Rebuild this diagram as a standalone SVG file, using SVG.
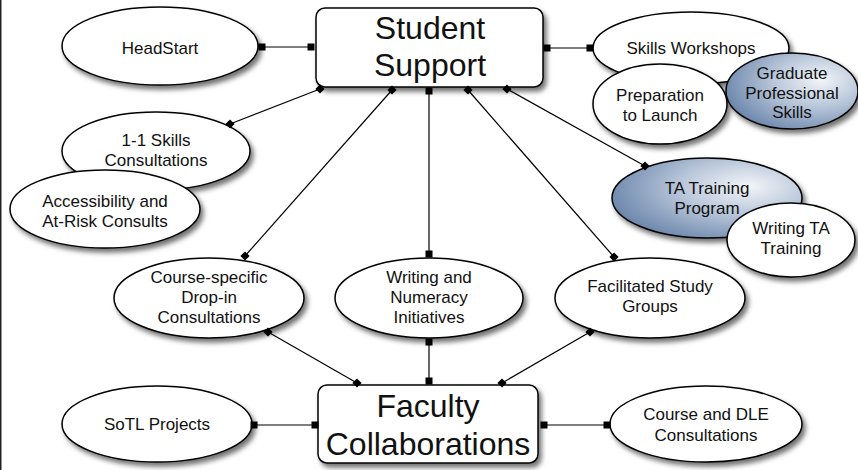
<svg xmlns="http://www.w3.org/2000/svg" width="858" height="470" viewBox="0 0 858 470">
<defs>
<filter id="sh" x="-20%" y="-20%" width="145%" height="155%">
<feDropShadow dx="3" dy="4" stdDeviation="2.5" flood-color="#000" flood-opacity="0.55"/>
</filter>
<radialGradient id="blue" cx="0.68" cy="0.38" r="0.75" fx="0.72" fy="0.35">
<stop offset="0" stop-color="#f3f5f9"/>
<stop offset="0.45" stop-color="#b9c7da"/>
<stop offset="1" stop-color="#6581a8"/>
</radialGradient>
<marker id="sq" viewBox="-4 -4 8 8" markerWidth="8" markerHeight="8" markerUnits="userSpaceOnUse" orient="0" refX="0" refY="0">
<rect x="-3.5" y="-3.5" width="7" height="7" fill="#000"/>
</marker>
<marker id="dm" viewBox="-5 -5 10 10" markerWidth="10" markerHeight="10" markerUnits="userSpaceOnUse" orient="0" refX="0" refY="0">
<path d="M0,-4.6 L4.6,0 L0,4.6 L-4.6,0Z" fill="#000"/>
</marker>
</defs>
<style>
.n{fill:#fff;stroke:#000;stroke-width:1.5;filter:url(#sh)}
.b{fill:url(#blue);stroke:#000;stroke-width:1.5;filter:url(#sh)}
.t{font-family:"Liberation Sans",Arial,Helvetica,sans-serif;font-size:17px;fill:#111;text-anchor:middle}
.big{font-family:"Liberation Sans",Arial,Helvetica,sans-serif;font-size:32px;fill:#111;text-anchor:middle}
.c line{stroke:#000;stroke-width:1.2}
.s{marker-start:url(#sq);marker-end:url(#sq)}
.d{marker-start:url(#dm);marker-end:url(#dm)}
</style>
<rect width="858" height="470" fill="#fff"/>
<rect x="0" y="0" width="1.5" height="470" fill="#222"/>

<g id="student-support">
<rect class="n" x="316" y="8" width="227" height="79" rx="9"/>
<text class="big" x="430" y="39">Student</text>
<text class="big" x="430" y="76">Support</text>
</g>
<g id="faculty-collaborations">
<rect class="n" x="318" y="385" width="220" height="78" rx="9"/>
<text class="big" x="428" y="417">Faculty</text>
<text class="big" x="428" y="455">Collaborations</text>
</g>
<g id="headstart">
<ellipse class="n" cx="160" cy="46" rx="98" ry="39"/>
<text class="t" x="160" y="54">HeadStart</text>
</g>
<g id="skills-workshops">
<ellipse class="n" cx="691" cy="48" rx="98" ry="36"/>
<text class="t" x="691" y="54">Skills Workshops</text>
</g>
<g id="preparation-to-launch">
<ellipse class="n" cx="660" cy="104" rx="67" ry="40"/>
<text class="t" x="660" y="101">Preparation</text>
<text class="t" x="660" y="121">to Launch</text>
</g>
<g id="graduate-professional-skills">
<ellipse class="b" cx="792" cy="91" rx="66" ry="38"/>
<text class="t" x="792" y="79">Graduate</text>
<text class="t" x="792" y="99">Professional</text>
<text class="t" x="792" y="118">Skills</text>
</g>
<g id="one-one-skills">
<ellipse class="n" cx="156" cy="151" rx="94" ry="39"/>
<text class="t" x="156" y="146">1-1 Skills</text>
<text class="t" x="156" y="166">Consultations</text>
</g>
<g id="accessibility">
<ellipse class="n" cx="105" cy="209" rx="95" ry="39"/>
<text class="t" x="105" y="207">Accessibility and</text>
<text class="t" x="105" y="227">At-Risk Consults</text>
</g>
<g id="ta-training">
<ellipse class="b" cx="707" cy="198" rx="95" ry="40"/>
<text class="t" x="707" y="194">TA Training</text>
<text class="t" x="707" y="214">Program</text>
</g>
<g id="writing-ta-training">
<ellipse class="n" cx="791" cy="240" rx="64" ry="37"/>
<text class="t" x="791" y="234">Writing TA</text>
<text class="t" x="791" y="254">Training</text>
</g>
<g id="course-specific">
<ellipse class="n" cx="209" cy="298" rx="95" ry="40"/>
<text class="t" x="209" y="283">Course-specific</text>
<text class="t" x="209" y="303">Drop-in</text>
<text class="t" x="209" y="323">Consultations</text>
</g>
<g id="writing-numeracy">
<ellipse class="n" cx="429" cy="298" rx="94" ry="40"/>
<text class="t" x="429" y="283">Writing and</text>
<text class="t" x="429" y="303">Numeracy</text>
<text class="t" x="429" y="323">Initiatives</text>
</g>
<g id="facilitated-study-groups">
<ellipse class="n" cx="650" cy="298" rx="95" ry="40"/>
<text class="t" x="650" y="292">Facilitated Study</text>
<text class="t" x="650" y="312">Groups</text>
</g>
<g id="sotl-projects">
<ellipse class="n" cx="157" cy="424" rx="95" ry="38"/>
<text class="t" x="157" y="430">SoTL Projects</text>
</g>
<g id="course-dle">
<ellipse class="n" cx="706" cy="424" rx="96" ry="38"/>
<text class="t" x="706" y="420">Course and DLE</text>
<text class="t" x="706" y="441">Consultations</text>
</g>

<g id="connectors" class="c">
<line class="s" x1="262" y1="47" x2="311" y2="47"/>
<line class="s" x1="547" y1="48" x2="590" y2="48"/>
<line class="d" x1="320" y1="89" x2="230" y2="124"/>
<line class="d" x1="392" y1="90" x2="245" y2="256"/>
<line class="s" x1="429" y1="91" x2="429" y2="254"/>
<line class="d" x1="468" y1="90" x2="614" y2="257"/>
<line class="d" x1="507" y1="89" x2="645" y2="166"/>
<line class="d" x1="268" y1="332" x2="357" y2="383"/>
<line class="s" x1="429" y1="342" x2="429" y2="381"/>
<line class="d" x1="590" y1="332" x2="502" y2="383"/>
<line class="s" x1="254" y1="425" x2="315" y2="425"/>
<line class="s" x1="544" y1="425" x2="607" y2="425"/>
</g>
</svg>
